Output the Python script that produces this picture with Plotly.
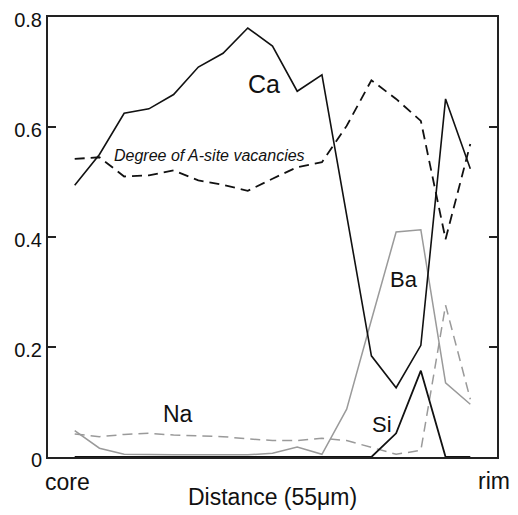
import plotly.graph_objects as go

# Distance index from core (0) to rim (16)
positions = list(range(17))

ca = [0.494, 0.55, 0.625, 0.633, 0.659, 0.709, 0.734, 0.780, 0.747, 0.665, 0.695,
      0.44, 0.184, 0.126, 0.203, 0.651, 0.524]
vacancies = [0.542, 0.545, 0.51, 0.512, 0.521, 0.503, 0.495, 0.484, 0.506, 0.527, 0.536,
             0.602, 0.685, 0.651, 0.611, 0.396, 0.569]
ba = [0.048, 0.016, 0.005, 0.004, 0.004, 0.004, 0.004, 0.004, 0.007, 0.018, 0.005,
      0.087, 0.249, 0.409, 0.413, 0.135, 0.096]
na = [0.042, 0.037, 0.041, 0.043, 0.040, 0.038, 0.037, 0.033, 0.030, 0.030, 0.034,
      0.030, 0.018, 0.005, 0.012, 0.276, 0.105]
si = [0, 0, 0, 0, 0, 0, 0, 0, 0, 0, 0, 0, 0, 0.043, 0.157, 0, 0]

y_ticks = [0, 0.2, 0.4, 0.6, 0.8]
y_ticklabels = ["0", "0.2", "0.4", "0.6", "0.8"]

FONT = "Liberation Sans, Arial, sans-serif"
DASH = "10px,6px"

fig = go.Figure()
fig.add_trace(go.Scatter(x=positions, y=ba, mode="lines",
                         line=dict(color="#9a9a9a", width=1.5), name="Ba"))
fig.add_trace(go.Scatter(x=positions, y=na, mode="lines",
                         line=dict(color="#9a9a9a", width=1.5, dash=DASH), name="Na"))
fig.add_trace(go.Scatter(x=positions, y=si, mode="lines",
                         line=dict(color="#111111", width=1.8), name="Si"))
fig.add_trace(go.Scatter(x=positions, y=vacancies, mode="lines",
                         line=dict(color="#111111", width=1.8, dash=DASH), name="Vacancies"))
fig.add_trace(go.Scatter(x=positions, y=ca, mode="lines",
                         line=dict(color="#111111", width=1.6), name="Ca"))

# in-plot labels (data coordinates)
inner = [
    dict(text="Ca", x=7.65, y=0.678, size=25),
    dict(text="Ba", x=13.33, y=0.323, size=22),
    dict(text="Na", x=4.17, y=0.079, size=23),
    dict(text="Si", x=12.43, y=0.059, size=22),
    dict(text="<i>Degree of A-site vacancies</i>", x=5.47, y=0.548, size=16),
]
for a in inner:
    fig.add_annotation(x=a["x"], y=a["y"], xref="x", yref="y", text=a["text"],
                       showarrow=False, xanchor="center", yanchor="middle",
                       font=dict(family=FONT, size=a["size"], color="#111111"))

# below-axis labels (x in data, y in paper coordinates)
outer = [
    dict(text="core", x=-0.28, y=-0.057, size=23),
    dict(text="rim", x=16.97, y=-0.055, size=23),
    dict(text="Distance (55μm)", x=7.98, y=-0.092, size=23),
]
for a in outer:
    fig.add_annotation(x=a["x"], y=a["y"], xref="x", yref="paper", text=a["text"],
                       showarrow=False, xanchor="center", yanchor="middle",
                       font=dict(family=FONT, size=a["size"], color="#111111"))

fig.update_layout(
    template="none",
    width=510, height=507,
    margin=dict(l=40, r=21, t=9, b=58, pad=0),
    paper_bgcolor="white", plot_bgcolor="white",
    showlegend=False,
    font=dict(family=FONT, color="#111111"),
    xaxis=dict(range=[-1.08, 17.08], showgrid=False, zeroline=False, automargin=False,
               showline=True, linecolor="#222222", linewidth=2, mirror=True,
               ticks="", showticklabels=False),
    yaxis=dict(range=[0, 0.8], showgrid=False, zeroline=False, automargin=False,
               showline=True, linecolor="#222222", linewidth=2, mirror="ticks",
               ticks="inside", ticklen=8, tickwidth=1.5, tickcolor="#222222",
               tickvals=y_ticks, ticktext=y_ticklabels, ticklabeloverflow="allow",
               ticklabelshift=3,
               tickfont=dict(family=FONT, size=20, color="#111111")),
)

fig.write_html("out.html")
